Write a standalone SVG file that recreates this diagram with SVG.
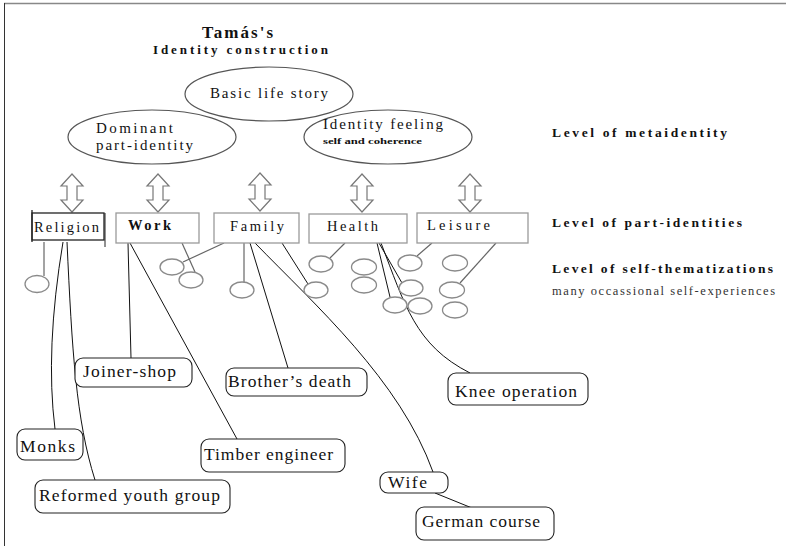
<svg xmlns="http://www.w3.org/2000/svg" width="786" height="546" viewBox="0 0 786 546" font-family="'Liberation Serif', 'Times New Roman', 'DejaVu Serif', serif">
  <defs>
    <style>
      text { font-family: "Liberation Serif", "Times New Roman", "DejaVu Serif", serif; fill: #111; }
      .title { font-weight: bold; }
      .meta { fill: #fff; stroke: #555; stroke-width: 1.2; }
      .part { fill: #fff; stroke: #9a9a9a; stroke-width: 1.3; }
      .part-dark { fill: #fff; stroke: #222; stroke-width: 1.3; }
      .dbl { fill: #fff; stroke: #777; stroke-width: 1.2; stroke-linejoin: miter; }
      .theme { fill: #fff; stroke: #8a8a8a; stroke-width: 1.3; }
      .story { fill: #fff; stroke: #222; stroke-width: 1.1; }
      .story-text { font-size: 17.5px; }
      .part-text { font-size: 14.5px; }
      .meta-text { font-size: 15px; }
      .link { fill: none; stroke: #111; stroke-width: 1; }
      .glink { fill: none; stroke: #666; stroke-width: 1.2; }
      .lvl { font-weight: bold; font-size: 13.5px; }
      .note { fill: #333; font-size: 12.5px; }
    </style>
    <path id="dblarrow" d="M0,0 L11,12 L5,12 L5,26 L11,26 L0,38 L-11,26 L-5,26 L-5,12 L-11,12 Z"/>
  </defs>

  <rect width="786" height="546" fill="#fff"/>
  <!-- page frame -->
  <line x1="4" y1="3.5" x2="786" y2="3.5" stroke="#888" stroke-width="1.5"/>
  <line x1="4.5" y1="3" x2="4.5" y2="546" stroke="#333" stroke-width="1"/>

  <!-- heading -->
  <g id="heading">
    <text class="title" x="202" y="38" font-size="17" textLength="71" lengthAdjust="spacing">Tamás's</text>
    <text class="title" x="153" y="54" font-size="13" textLength="175" lengthAdjust="spacing">Identity construction</text>
  </g>

  <!-- level captions -->
  <g id="levels">
    <text class="lvl" x="552" y="137" textLength="175" lengthAdjust="spacing">Level of metaidentity</text>
    <text class="lvl" x="552" y="227" textLength="190" lengthAdjust="spacing">Level of part-identities</text>
    <text class="lvl" x="552" y="273" textLength="221" lengthAdjust="spacing">Level of self-thematizations</text>
    <text class="note" x="552" y="295" textLength="223" lengthAdjust="spacing">many occassional self-experiences</text>
  </g>

  <!-- connectors -->
  <g id="connectors">
    <!-- Religion -->
    <line class="glink" x1="44" y1="242" x2="44" y2="276"/>
    <path class="link" d="M63,242 Q45,350 55,429"/>
    <path class="link" d="M67,242 C72,350 76,420 95,480"/>
    <!-- Work -->
    <line class="link" x1="128" y1="243" x2="131" y2="358"/>
    <line class="link" x1="130" y1="243" x2="237" y2="439"/>
    <line class="glink" x1="182" y1="243" x2="195" y2="272"/>
    <!-- Family -->
    <line class="glink" x1="224" y1="243" x2="183" y2="262"/>
    <line class="glink" x1="244" y1="243" x2="244" y2="282"/>
    <line class="link" x1="250" y1="243" x2="288" y2="368"/>
    <path class="link" d="M255,243 C315,305 400,380 433,472"/>
    <line class="link" x1="282" y1="243" x2="308" y2="284"/>
    <!-- Health -->
    <line class="glink" x1="345" y1="243" x2="330" y2="258"/>
    <line class="link" x1="377" y1="243" x2="390" y2="297"/>
    <line class="link" x1="379" y1="243" x2="402" y2="283"/>
    <path class="link" d="M381,243 C405,305 415,345 470,373"/>
    <!-- Leisure -->
    <line class="glink" x1="432" y1="243" x2="417" y2="256"/>
    <line class="glink" x1="496" y1="243" x2="460" y2="283"/>
    <!-- Wife to German course -->
    <line class="link" x1="435" y1="493" x2="472" y2="508"/>
  </g>

  <!-- metaidentity level -->
  <g id="basic-life-story">
    <ellipse class="meta" cx="269" cy="94" rx="84" ry="27"/>
    <text class="meta-text" x="210" y="98" textLength="118" lengthAdjust="spacing">Basic life story</text>
  </g>
  <g id="dominant-part-identity">
    <ellipse class="meta" cx="152" cy="137" rx="84" ry="27"/>
    <text class="meta-text" x="96" y="133" textLength="77" lengthAdjust="spacing">Dominant</text>
    <text class="meta-text" x="96" y="150" textLength="97" lengthAdjust="spacing">part-identity</text>
  </g>
  <g id="identity-feeling">
    <ellipse class="meta" cx="388" cy="137" rx="84" ry="27"/>
    <text class="meta-text" x="323" y="129" textLength="120" lengthAdjust="spacing">Identity feeling</text>
    <text x="323" y="144" font-size="8" font-weight="bold" textLength="99" lengthAdjust="spacingAndGlyphs">self and coherence</text>
  </g>

  <!-- two-way arrows between levels -->
  <g id="arrows">
    <use href="#dblarrow" class="dbl" x="72" y="174"/>
    <use href="#dblarrow" class="dbl" x="158" y="174"/>
    <use href="#dblarrow" class="dbl" x="260" y="173"/>
    <use href="#dblarrow" class="dbl" x="362" y="174"/>
    <use href="#dblarrow" class="dbl" x="470" y="174"/>
  </g>

  <!-- part-identities -->
  <g id="religion">
    <rect class="part-dark" x="32" y="213" width="72" height="27"/>
    <line x1="32" y1="210" x2="32" y2="242" stroke="#222" stroke-width="1.3"/>
    <line x1="105" y1="213" x2="105" y2="247" stroke="#222" stroke-width="1"/>
    <text class="part-text" x="34" y="232" textLength="65" lengthAdjust="spacing">Religion</text>
  </g>
  <g id="work">
    <rect class="part" x="116" y="213" width="83" height="30"/>
    <text class="part-text" x="128" y="230" font-weight="bold" textLength="43" lengthAdjust="spacing">Work</text>
  </g>
  <g id="family">
    <rect class="part" x="214" y="213" width="85" height="30"/>
    <text class="part-text" x="230" y="231" textLength="54" lengthAdjust="spacing">Family</text>
  </g>
  <g id="health">
    <rect class="part" x="309" y="214" width="98" height="29"/>
    <text class="part-text" x="327" y="231" textLength="51" lengthAdjust="spacing">Health</text>
  </g>
  <g id="leisure">
    <rect class="part" x="417" y="213" width="111" height="30"/>
    <text class="part-text" x="427" y="230" textLength="63" lengthAdjust="spacing">Leisure</text>
  </g>

  <!-- self-thematizations -->
  <g id="themes">
    <ellipse class="theme" cx="37" cy="284" rx="12" ry="8.5"/>
    <ellipse class="theme" cx="172" cy="267" rx="12" ry="8"/>
    <ellipse class="theme" cx="191" cy="280" rx="12" ry="8"/>
    <ellipse class="theme" cx="242" cy="290" rx="12" ry="8"/>
    <ellipse class="theme" cx="316" cy="290" rx="12" ry="8"/>
    <ellipse class="theme" cx="321" cy="264" rx="12" ry="8"/>
    <ellipse class="theme" cx="364" cy="267" rx="12.5" ry="8"/>
    <ellipse class="theme" cx="364" cy="285" rx="12.5" ry="8"/>
    <ellipse class="theme" cx="395" cy="305" rx="12" ry="8"/>
    <ellipse class="theme" cx="410" cy="263" rx="12" ry="8"/>
    <ellipse class="theme" cx="411" cy="288" rx="12" ry="8"/>
    <ellipse class="theme" cx="420" cy="306" rx="12" ry="8"/>
    <ellipse class="theme" cx="455" cy="263" rx="12.5" ry="8"/>
    <ellipse class="theme" cx="452" cy="290" rx="12.5" ry="8"/>
    <ellipse class="theme" cx="455" cy="310" rx="12.5" ry="8"/>
  </g>

  <!-- concrete life-story episodes -->
  <g id="joiner-shop">
    <rect class="story" x="75" y="358" width="117" height="29" rx="8"/>
    <text class="story-text" x="83" y="377" textLength="93" lengthAdjust="spacing">Joiner-shop</text>
  </g>
  <g id="brothers-death">
    <rect class="story" x="226" y="368" width="141" height="28" rx="8"/>
    <text class="story-text" x="228" y="387" textLength="123" lengthAdjust="spacing">Brother’s death</text>
  </g>
  <g id="knee-operation">
    <rect class="story" x="448" y="373" width="140" height="32" rx="8"/>
    <text class="story-text" x="455" y="397" textLength="122" lengthAdjust="spacing">Knee operation</text>
  </g>
  <g id="monks">
    <rect class="story" x="17" y="429" width="66" height="31" rx="8"/>
    <text class="story-text" x="20" y="452" textLength="55" lengthAdjust="spacing">Monks</text>
  </g>
  <g id="timber-engineer">
    <rect class="story" x="201" y="439" width="144" height="33" rx="8"/>
    <text class="story-text" x="204" y="460" textLength="129" lengthAdjust="spacing">Timber engineer</text>
  </g>
  <g id="reformed-youth-group">
    <rect class="story" x="35" y="480" width="195" height="33" rx="8"/>
    <text class="story-text" x="39" y="501" textLength="181" lengthAdjust="spacing">Reformed youth group</text>
  </g>
  <g id="wife">
    <rect class="story" x="380" y="472" width="68" height="21" rx="8"/>
    <text class="story-text" x="388" y="488" textLength="39" lengthAdjust="spacing">Wife</text>
  </g>
  <g id="german-course">
    <rect class="story" x="416" y="507" width="138" height="33" rx="8"/>
    <text class="story-text" x="422" y="527" textLength="118" lengthAdjust="spacing">German course</text>
  </g>
</svg>
